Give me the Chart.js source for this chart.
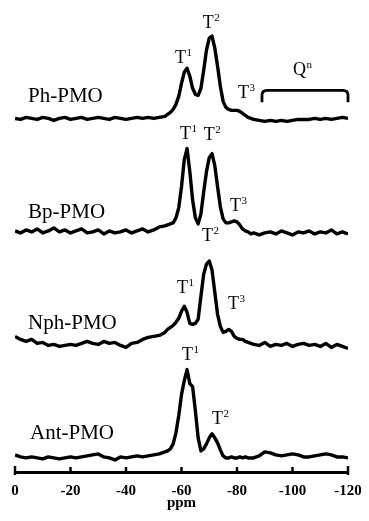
<!DOCTYPE html>
<html>
<head>
<meta charset="utf-8">
<script src="https://cdn.jsdelivr.net/npm/chart.js@4/dist/chart.umd.min.js"></script>
<style>
  html, body { margin: 0; padding: 0; background: #fff; }
  #wrap { width: 369px; height: 521px; position: relative; }
</style>
</head>
<body>
<div id="wrap"><canvas id="nmrCanvas"></canvas></div>
<script>
// chemical shift (ppm) sampling, shared by all four spectra
const ppm = [0, -2, -4, -6, -8, -10, -12, -14, -16, -18, -20, -22, -24, -26, -28, -30, -32, -34, -36, -38,
  -40, -42, -44, -46, -48, -50, -52, -54,
  -55, -56, -57, -58, -59, -60, -61, -62, -63, -64, -65, -66, -67, -68, -69, -70,
  -71, -72, -73, -74, -75, -76, -77, -78, -79, -80, -81, -82, -83, -84, -85,
  -86, -88, -90, -92, -94, -96, -98, -100, -102, -104, -106, -108, -110, -112, -114, -116, -118, -120];

// intensities above each trace's own baseline
const phPMO = [0, -1, 1, 0, -1, 1, 0, -2, 0, 1, -1, 0, 1, -1, 0, 1, 0, -1, 1, 0,
  -1, 0, 1, 0, 1, 0, 1, 2,
  4, 6, 9, 14, 22, 35, 46, 50, 42, 30, 24, 23, 30, 48, 68, 80,
  82, 70, 52, 32, 17, 11, 9, 8, 8, 8, 7, 5, 3, 1, 0,
  -1, -2, -3, -2, -3, -2, -3, -2, -1, -1, -1, 0, -1, 0, -1, 0, 1, 0];

const bpPMO = [1, -1, 2, 0, 3, -1, 1, 4, 0, 2, -1, 1, 3, -1, 0, 2, -2, 1, -1, 0,
  2, -1, 1, 3, 0, 2, 5, 6,
  7, 8, 9, 14, 24, 45, 72, 83, 60, 32, 14, 8, 18, 40, 60, 74,
  78, 66, 45, 25, 13, 9, 9, 10, 11, 10, 7, 3, 1, 0, -2,
  -1, -3, -1, 0, -2, 1, -1, -3, 0, -1, 1, -2, 0, -1, 2, -2, 0, -2];

const nphPMO = [8, 5, 3, 5, 1, 2, -1, 0, -2, -1, 0, -1, 1, 3, 1, 0, 3, 1, 2, -1,
  -3, 1, 2, 5, 7, 8, 9, 12,
  15, 17, 19, 22, 26, 33, 38, 32, 21, 20, 21, 25, 48, 70, 80, 83,
  74, 52, 30, 18, 12, 13, 15, 13, 8, 6, 5, 5, 3, 2, 1,
  0, -1, 2, -2, 0, -1, 1, -2, 0, 1, -1, 0, -2, 1, -3, 0, -2, -4];

const antPMO = [3, 1, 0, 1, 0, -1, 1, 0, -1, 0, 1, 0, 1, 2, 3, 4, 1, 0, -2, 1,
  0, 1, 2, 1, 2, 3, 4, 6,
  7, 9, 14, 25, 42, 63, 77, 88, 74, 71, 47, 20, 7, 9, 14, 20,
  24, 20, 15, 8, 2, 0, 0, 1, 0, 0, 1, 0, 1, 0, 0,
  0, 2, 6, 5, 3, 2, 3, 4, 3, 1, 1, 2, 3, 4, 3, 1, 1, 0];

const sampleNames = ['Ph-PMO', 'Bp-PMO', 'Nph-PMO', 'Ant-PMO'];
const xTicks = [0, -20, -40, -60, -80, -100, -120];

// vertical stacking of the spectra (y units)
const stackOffset = [352, 239, 127, 14];

const traces = [phPMO, bpPMO, nphPMO, antPMO];

const serif = '"Liberation Serif", "Times New Roman", serif';

// text annotations, in data coordinates
const nameLabels = [
  { text: 'Ph-PMO', x: -4.7, y: 368 },
  { text: 'Bp-PMO', x: -4.7, y: 253 },
  { text: 'Nph-PMO', x: -4.7, y: 142 },
  { text: 'Ant-PMO', x: -5.4, y: 33 }
];
const peakLabels = [
  { base: 'T', sup: '1', x: -57.7, y: 407 },
  { base: 'T', sup: '2', x: -67.7, y: 442 },
  { base: 'T', sup: '3', x: -80.4, y: 372 },
  { base: 'Q', sup: 'n', x: -100.2, y: 395 },
  { base: 'T', sup: '1', x: -59.5, y: 332 },
  { base: 'T', sup: '2', x: -68.0, y: 331 },
  { base: 'T', sup: '3', x: -77.5, y: 260 },
  { base: 'T', sup: '2', x: -67.4, y: 230 },
  { base: 'T', sup: '1', x: -58.4, y: 178 },
  { base: 'T', sup: '3', x: -76.8, y: 162 },
  { base: 'T', sup: '1', x: -60.2, y: 112 },
  { base: 'T', sup: '2', x: -71.0, y: 48 }
];

const annotate = {
  id: 'annotate',
  afterDraw(chart) {
    const ctx = chart.ctx;
    const xs = chart.scales.x;
    const ys = chart.scales.y;
    const bottom = chart.chartArea.bottom;
    ctx.save();
    ctx.fillStyle = '#000';
    ctx.strokeStyle = '#000';
    ctx.textBaseline = 'alphabetic';
    ctx.textAlign = 'left';

    // tick marks pointing up from the axis
    ctx.lineWidth = 2.5;
    xTicks.forEach((t, i) => {
      const px = xs.getPixelForValue(t);
      const end = i === 0 || i === xTicks.length - 1;
      ctx.beginPath();
      ctx.moveTo(px, bottom - (end ? 6 : 5));
      ctx.lineTo(px, bottom + (end ? 3 : 0));
      ctx.stroke();
    });

    ctx.font = '21px ' + serif;
    nameLabels.forEach(l => {
      ctx.fillText(l.text, xs.getPixelForValue(l.x), ys.getPixelForValue(l.y));
    });

    peakLabels.forEach(l => {
      const px = xs.getPixelForValue(l.x);
      const py = ys.getPixelForValue(l.y);
      ctx.font = '18px ' + serif;
      ctx.fillText(l.base, px, py);
      const w = ctx.measureText(l.base).width;
      ctx.font = '11px ' + serif;
      ctx.fillText(l.sup, px + w + 0.5, py - 7);
    });

    // Q^n bracket
    const x0 = xs.getPixelForValue(-89);
    const x1 = xs.getPixelForValue(-120);
    const yTop = ys.getPixelForValue(380);
    const yEnd = ys.getPixelForValue(368);
    const r = 5;
    ctx.lineWidth = 2.8;
    ctx.beginPath();
    ctx.moveTo(x0, yEnd);
    ctx.lineTo(x0, yTop + r);
    ctx.quadraticCurveTo(x0, yTop, x0 + r, yTop);
    ctx.lineTo(x1 - r, yTop);
    ctx.quadraticCurveTo(x1, yTop, x1, yTop + r);
    ctx.lineTo(x1, yEnd);
    ctx.stroke();
    ctx.restore();
  }
};

new Chart(document.getElementById('nmrCanvas'), {
  type: 'line',
  data: {
    datasets: traces.map((vals, k) => ({
      label: sampleNames[k],
      data: ppm.map((p, i) => ({ x: p, y: vals[i] + stackOffset[k] })),
      borderColor: '#000',
      borderWidth: 3.4,
      borderJoinStyle: 'round',
      pointRadius: 0,
      tension: 0,
      fill: false
    }))
  },
  options: {
    responsive: true,
    maintainAspectRatio: false,
    devicePixelRatio: 1,
    animation: false,
    layout: { padding: { left: 15, right: 21, top: 20, bottom: 10 } },
    scales: {
      x: {
        type: 'linear',
        min: -120,
        max: 0,
        reverse: true,
        afterBuildTicks: axis => { axis.ticks = xTicks.map(v => ({ value: v })); },
        // labels at the ends fit inside the layout padding already
        afterFit: axis => { axis.paddingLeft = 0; axis.paddingRight = 0; },
        grid: { display: false, drawTicks: false },
        border: { display: true, color: '#000', width: 3 },
        ticks: {
          padding: 12,
          color: '#000',
          font: { family: serif, size: 15, weight: 'bold', lineHeight: 1 },
          maxRotation: 0
        },
        title: {
          display: true,
          text: 'ppm',
          color: '#000',
          font: { family: serif, size: 15, weight: 'bold', lineHeight: 1 },
          padding: { top: -15, bottom: 0 }
        }
      },
      y: { display: false, min: 0, max: 450 }
    },
    plugins: {
      legend: { display: false },
      tooltip: { enabled: false }
    }
  },
  plugins: [annotate]
});
</script>
</body>
</html>
